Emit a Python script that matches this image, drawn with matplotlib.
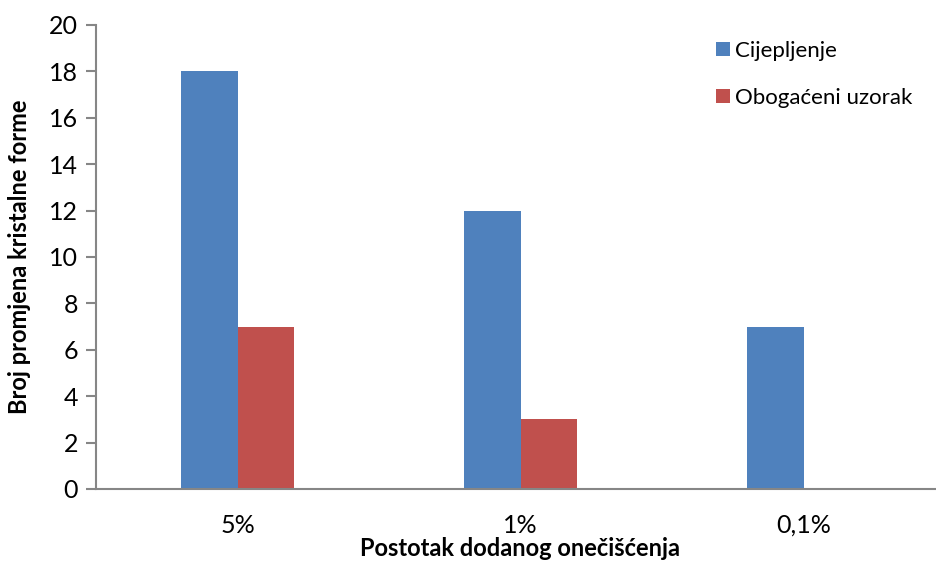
import numpy as np
import matplotlib.pyplot as plt

plt.rcParams['font.family'] = ['Lato', 'DejaVu Sans']

categories = ['5%', '1%', '0,1%']
cijepljenje = [18, 12, 7]
obogaceni = [7, 3, 0]
series_names = ['Cijepljenje', 'Obogaćeni uzorak']

blue = '#4F81BD'
red = '#C0504D'
axis_grey = '#868686'

fig = plt.figure(figsize=(9.36, 5.65), dpi=100)
ax = fig.add_axes([96 / 936, 76 / 565, 849 / 936, 464 / 565])

x = np.arange(len(categories))
w = 0.2
ax.bar(x - w / 2, cijepljenje, w, color=blue, label=series_names[0])
ax.bar(x + w / 2, obogaceni, w, color=red, label=series_names[1])

ax.set_xlim(-0.5, 2.5)
ax.set_ylim(0, 20)
ax.set_yticks(range(0, 21, 2))
ax.set_xticks(x)
ax.set_xticklabels(categories)

for side in ['top', 'right']:
    ax.spines[side].set_visible(False)
for side in ['left', 'bottom']:
    ax.spines[side].set_color(axis_grey)
    ax.spines[side].set_linewidth(1.5)

ax.tick_params(axis='y', direction='out', length=7, width=1.5, color=axis_grey,
               labelsize=18, pad=6)
ax.tick_params(axis='x', length=0, labelsize=18, pad=18)

ax.set_xlabel('Postotak dodanog onečišćenja', fontsize=17, fontweight='bold', labelpad=0)
ax.set_ylabel('Broj promjena kristalne forme', fontsize=17, fontweight='bold', labelpad=13)

ax.legend(loc='upper left', bbox_to_anchor=(0.72, 0.985), frameon=False,
          fontsize=16, handlelength=0.6, handleheight=0.6, handletextpad=0.25,
          labelspacing=1.2, borderaxespad=0)

fig.savefig('out.png', dpi=100)
